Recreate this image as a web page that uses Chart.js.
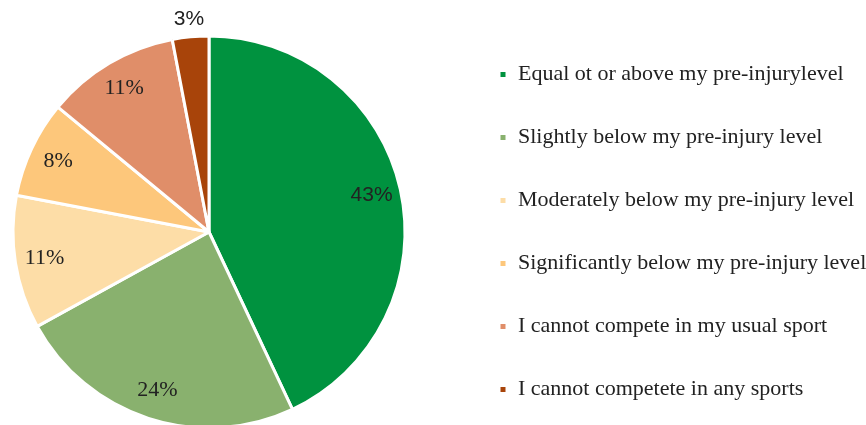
<!DOCTYPE html>
<html>
<head>
<meta charset="utf-8">
<script src="https://cdn.jsdelivr.net/npm/chart.js@4/dist/chart.umd.min.js"></script>
<style>
  html, body { margin: 0; padding: 0; background: #fff; overflow: hidden; }
  #wrap { width: 866px; height: 425px; overflow: hidden; position: relative; }
  #pie { position: absolute; left: -40px; top: 0; }
</style>
</head>
<body>
<div id="wrap"><canvas id="pie" width="906" height="464"></canvas></div>
<script>
  // answers and their shares (%)
  const categories = [
    'Equal ot or above my pre-injurylevel',
    'Slightly below my pre-injury level',
    'Moderately below my pre-injury level',
    'Significantly below my pre-injury level',
    'I cannot compete in my usual sport',
    'I cannot competete in any sports'
  ];
  const shares = [43, 24, 11, 8, 11, 3];
  const sliceColors = ['#00923F', '#89B16E', '#FDDDA7', '#FDC77B', '#E08E69', '#A8440A'];

  // percentage labels on each slice
  const pctLabels = {
    id: 'pctLabels',
    afterDatasetsDraw: function (chart) {
      var ctx = chart.ctx;
      var meta = chart.getDatasetMeta(0);
      ctx.save();
      ctx.textAlign = 'center';
      ctx.textBaseline = 'middle';
      ctx.fillStyle = '#222';
      meta.data.forEach(function (arc, i) {
        var p = arc.getProps(['x', 'y', 'startAngle', 'endAngle', 'outerRadius'], true);
        var mid = (p.startAngle + p.endAngle) / 2;
        var small = shares[i] < 5;
        var r = p.outerRadius * (small ? 1.09 : 0.85);
        var sans = i === 0 || small;
        ctx.font = sans ? '21px "Liberation Sans", Arial, sans-serif' : '22px "Liberation Serif", "Times New Roman", serif';
        ctx.fillText(shares[i] + '%', p.x + Math.cos(mid) * r, p.y + Math.sin(mid) * r);
      });
      ctx.restore();
    }
  };

  new Chart(document.getElementById('pie'), {
    type: 'pie',
    data: {
      labels: categories,
      datasets: [{
        data: shares,
        backgroundColor: sliceColors,
        borderColor: '#ffffff',
        borderWidth: 3,
        radius: 196
      }]
    },
    options: {
      responsive: false,
      animation: false,
      plugins: {
        tooltip: { enabled: false },
        legend: {
          position: 'right',
          maxWidth: 408,
          labels: {
            boxWidth: 8,
            boxHeight: 8,
            padding: 41,
            color: '#222',
            font: { family: '"Liberation Serif", "Times New Roman", serif', size: 22 }
          }
        }
      }
    },
    plugins: [pctLabels]
  });
</script>
</body>
</html>
